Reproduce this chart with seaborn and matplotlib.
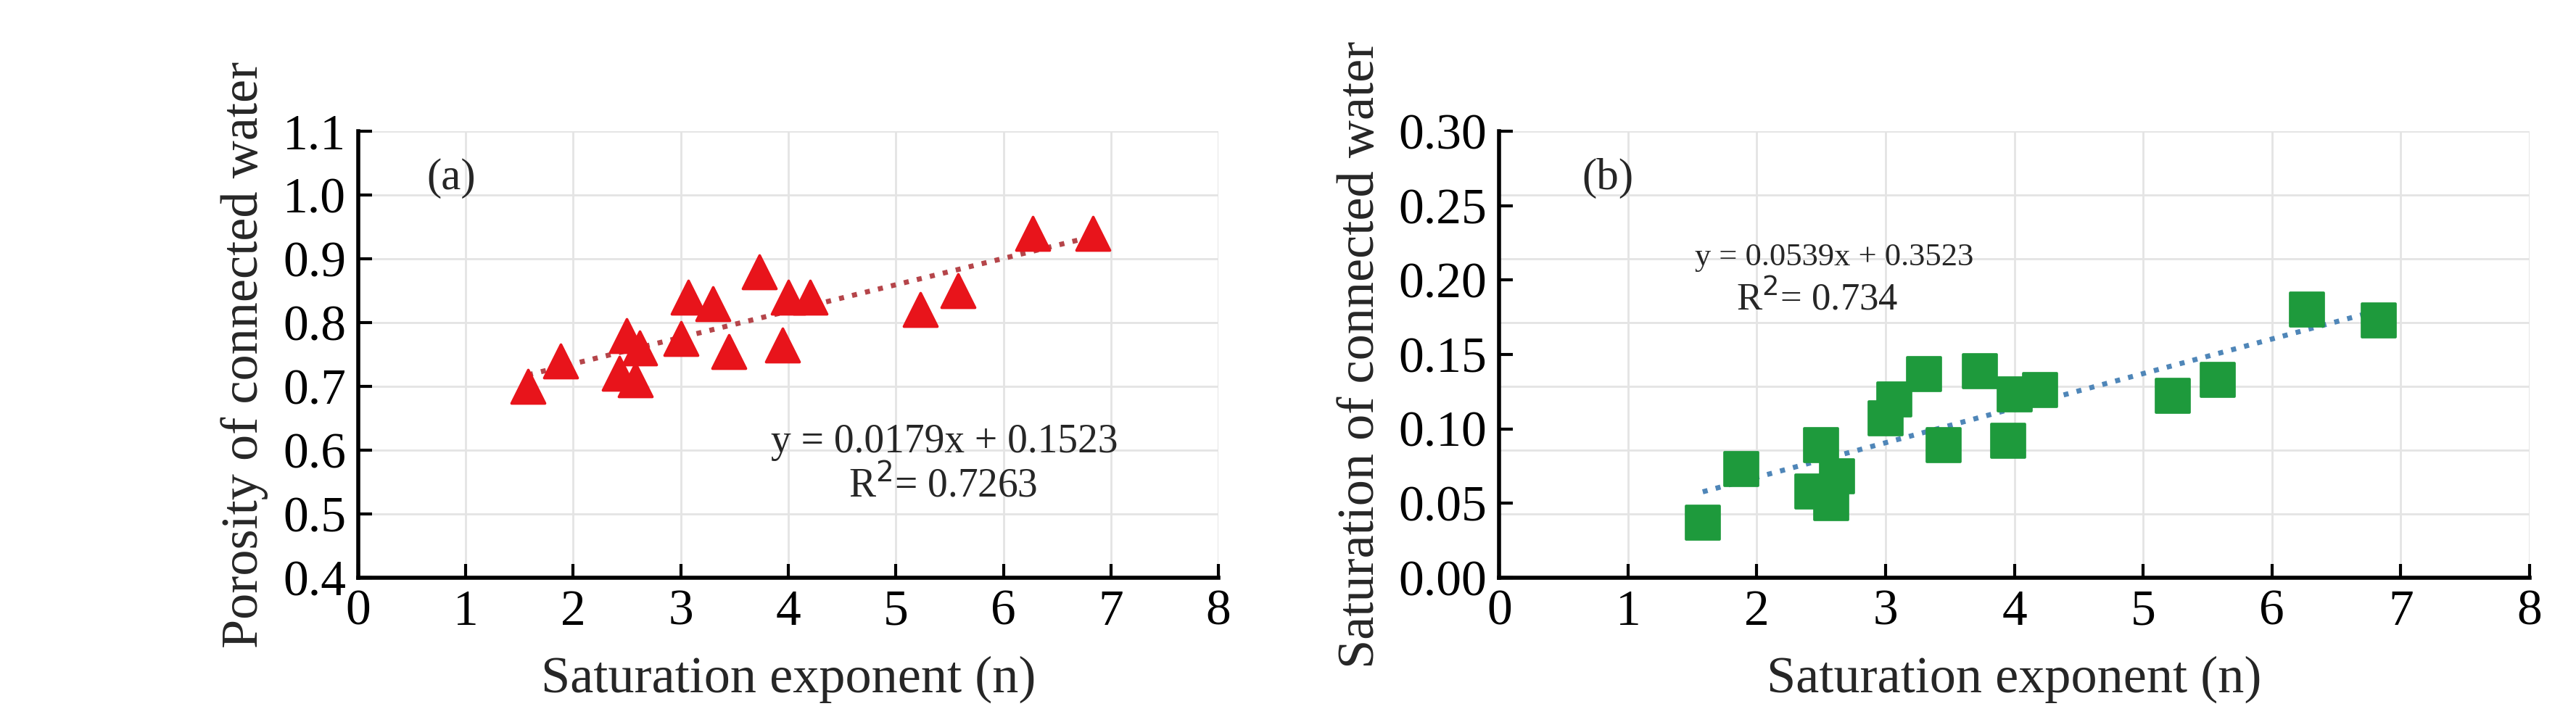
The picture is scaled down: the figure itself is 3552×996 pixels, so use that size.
import numpy as np
import pandas as pd
import seaborn as sns
import matplotlib
matplotlib.use("Agg")
import matplotlib.pyplot as plt

n_exp = [1.58, 1.88, 2.43, 2.50, 2.58, 2.62, 3.00, 3.07, 3.30, 3.45, 3.73, 3.95, 4.00, 4.20, 5.23, 5.58, 6.27, 6.83]
porosity = [0.70, 0.74, 0.72, 0.78, 0.71, 0.76, 0.775, 0.84, 0.83, 0.755, 0.88, 0.765, 0.84, 0.84, 0.82, 0.85, 0.94, 0.94]
saturation = [0.037, 0.073, 0.058, 0.089, 0.050, 0.068, 0.107, 0.120, 0.137, 0.089, 0.139, 0.092, 0.123, 0.126, 0.122, 0.133, 0.180, 0.173]

df = pd.DataFrame({"n": n_exp, "por": porosity, "sat": saturation})

sns.set_theme(style="white")
plt.rcParams['font.family'] = ['Liberation Serif', 'DejaVu Serif']

fig = plt.figure(figsize=(35.52, 9.96), dpi=100)
axa = fig.add_axes([0.139, 0.20, 0.334, 0.618])
axb = fig.add_axes([0.582, 0.20, 0.400, 0.618])

def style(ax, ylim, yticks, ylabel, fmt, grid_y):
    ax.set_xlim(0, 8)
    ax.set_ylim(*ylim)
    ax.set_xticks(range(9))
    ax.set_yticks(yticks)
    ax.set_yticklabels([fmt.format(v) for v in yticks])
    for gx in range(1, 9):
        ax.axvline(gx, color="#e4e4e4", lw=2, zorder=0)
    for gy in grid_y:
        ax.axhline(gy, color="#e4e4e4", lw=2, zorder=0)
    for s in ["top", "right"]:
        ax.spines[s].set_visible(False)
    ax.spines["left"].set_linewidth(4)
    ax.spines["bottom"].set_linewidth(4)
    ax.spines["left"].set_color("black")
    ax.spines["bottom"].set_color("black")
    ax.tick_params(axis="both", direction="in", length=14, width=3, labelsize=50, colors="black", pad=12, left=True, bottom=True)
    ax.set_xlabel("Saturation exponent (n)", fontsize=52, labelpad=20)
    ax.set_ylabel(ylabel, fontsize=52, labelpad=14)

# (a)
style(axa, (0.4, 1.1), np.round(np.arange(0.4, 1.11, 0.1), 2), "Porosity of connected water", "{:.1f}", np.arange(0.5, 1.11, 0.1))
sns.scatterplot(data=df, x="n", y="por", ax=axa, marker="^", s=1100, color="#e8141b", edgecolor="#e8141b", zorder=3)
k, b = np.polyfit(df["n"], df["por"], 1)
xs = np.array([df["n"].min(), df["n"].max()])
axa.plot(xs, k * xs + b, ls=":", lw=5, color="#b5454a", zorder=2)
axa.text(0.08, 0.87, "(a)", transform=axa.transAxes, fontsize=44)
axa.text(0.48, 0.28, "y = 0.0179x + 0.1523", transform=axa.transAxes, fontsize=40)
axa.text(0.57, 0.18, "R$^2$= 0.7263", transform=axa.transAxes, fontsize=40)

# (b)
style(axb, (0.0, 0.30), np.round(np.arange(0, 0.31, 0.05), 2), "Saturation of connected water", "{:.2f}", np.linspace(0, 0.3, 8)[1:])
sns.scatterplot(data=df, x="n", y="sat", ax=axb, marker="s", s=1100, color="#1e9a3c", edgecolor="#1e9a3c", zorder=3)
k2, b2 = np.polyfit(df["n"], df["sat"], 1)
axb.plot(xs, k2 * xs + b2, ls=":", lw=5, color="#4f86b8", zorder=2)
axb.text(0.08, 0.87, "(b)", transform=axb.transAxes, fontsize=44)
axb.text(0.19, 0.70, "y = 0.0539x + 0.3523", transform=axb.transAxes, fontsize=32)
axb.text(0.23, 0.60, "R$^2$= 0.734", transform=axb.transAxes, fontsize=38)

fig.savefig("out.png", dpi=100)
